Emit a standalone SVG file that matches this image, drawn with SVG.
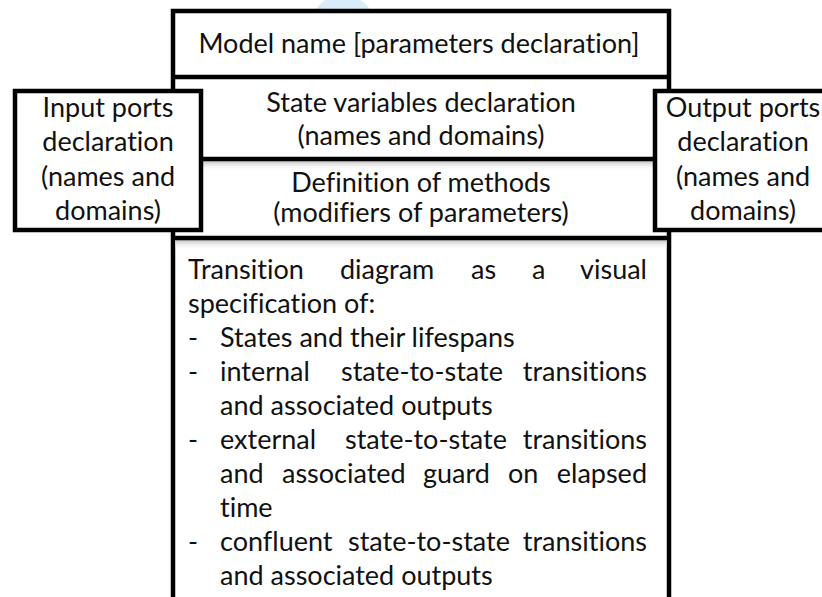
<svg xmlns="http://www.w3.org/2000/svg" width="822" height="597" viewBox="0 0 822 597">
  <defs>
    <style>
      .box { fill: #ffffff; stroke: #000000; stroke-width: 4.5; }
      .div { stroke: #000000; stroke-width: 4.5; }
      .t { font-family: Lato, "Open Sans", "Liberation Sans", sans-serif; font-size: 27px; fill: #111111; font-variant-ligatures: none; font-feature-settings: "liga" 0, "clig" 0; }
      .c { text-anchor: middle; }
    </style>
    <linearGradient id="shade" x1="0" y1="0" x2="0" y2="1">
      <stop offset="0" stop-color="#c4c4c4"/>
      <stop offset="1" stop-color="#ffffff" stop-opacity="0"/>
    </linearGradient>
  </defs>

  <rect width="822" height="597" fill="#ffffff"/>

  <!-- faint blue disc peeking above the model block -->
  <circle cx="343" cy="28" r="33" fill="#d8ecf9"/>

  <!-- central model block: name, state variables, methods, transition diagram -->
  <g id="model">
    <rect class="box" x="173" y="11" width="496" height="640"/>
    <rect x="175" y="161" width="492" height="10" fill="url(#shade)"/>
    <rect x="175" y="240" width="492" height="10" fill="url(#shade)"/>
    <line class="div" x1="173" y1="77" x2="669" y2="77"/>
    <line class="div" x1="173" y1="159" x2="669" y2="159"/>
    <line class="div" x1="173" y1="238" x2="669" y2="238"/>
  </g>

  <g id="model-name">
    <text class="t c" x="419" y="53">Model name [parameters declaration]</text>
  </g>

  <g id="state-variables">
    <text class="t c" x="421" y="112">State variables declaration</text>
    <text class="t c" x="421" y="145">(names and domains)</text>
  </g>

  <g id="methods">
    <text class="t c" x="421" y="192">Definition of methods</text>
    <text class="t c" x="421" y="222">(modifiers of parameters)</text>
  </g>

  <g id="transition-diagram">
    <text class="t" y="279"><tspan x="188">Transition</tspan><tspan x="340">diagram</tspan><tspan x="471">as</tspan><tspan x="532">a</tspan><tspan x="647" text-anchor="end">visual</tspan></text>
    <text class="t" x="188" y="313">specification of:</text>
    <text class="t" x="188" y="347">-</text>
    <text class="t" x="220" y="347">States and their lifespans</text>
    <text class="t" x="188" y="381">-</text>
    <text class="t" y="381"><tspan x="220">internal</tspan><tspan x="341">state-to-state</tspan><tspan x="647" text-anchor="end">transitions</tspan></text>
    <text class="t" x="220" y="415">and associated outputs</text>
    <text class="t" x="188" y="449">-</text>
    <text class="t" y="449"><tspan x="220">external</tspan><tspan x="345">state-to-state</tspan><tspan x="647" text-anchor="end">transitions</tspan></text>
    <text class="t" y="483"><tspan x="220">and</tspan><tspan x="282">associated</tspan><tspan x="423">guard</tspan><tspan x="508">on</tspan><tspan x="647" text-anchor="end">elapsed</tspan></text>
    <text class="t" x="220" y="517">time</text>
    <text class="t" x="188" y="551">-</text>
    <text class="t" y="551"><tspan x="220">confluent</tspan><tspan x="348">state-to-state</tspan><tspan x="647" text-anchor="end">transitions</tspan></text>
    <text class="t" x="220" y="585">and associated outputs</text>
  </g>

  <g id="input-ports">
    <rect class="box" x="15" y="91" width="186" height="139"/>
    <text class="t c" x="108" y="117">Input ports</text>
    <text class="t c" x="108" y="151">declaration</text>
    <text class="t c" x="108" y="186">(names and</text>
    <text class="t c" x="108" y="220">domains)</text>
  </g>

  <g id="output-ports">
    <rect class="box" x="655" y="91" width="190" height="139"/>
    <text class="t c" x="743" y="117">Output ports</text>
    <text class="t c" x="743" y="151">declaration</text>
    <text class="t c" x="743" y="186">(names and</text>
    <text class="t c" x="743" y="220">domains)</text>
  </g>
</svg>
